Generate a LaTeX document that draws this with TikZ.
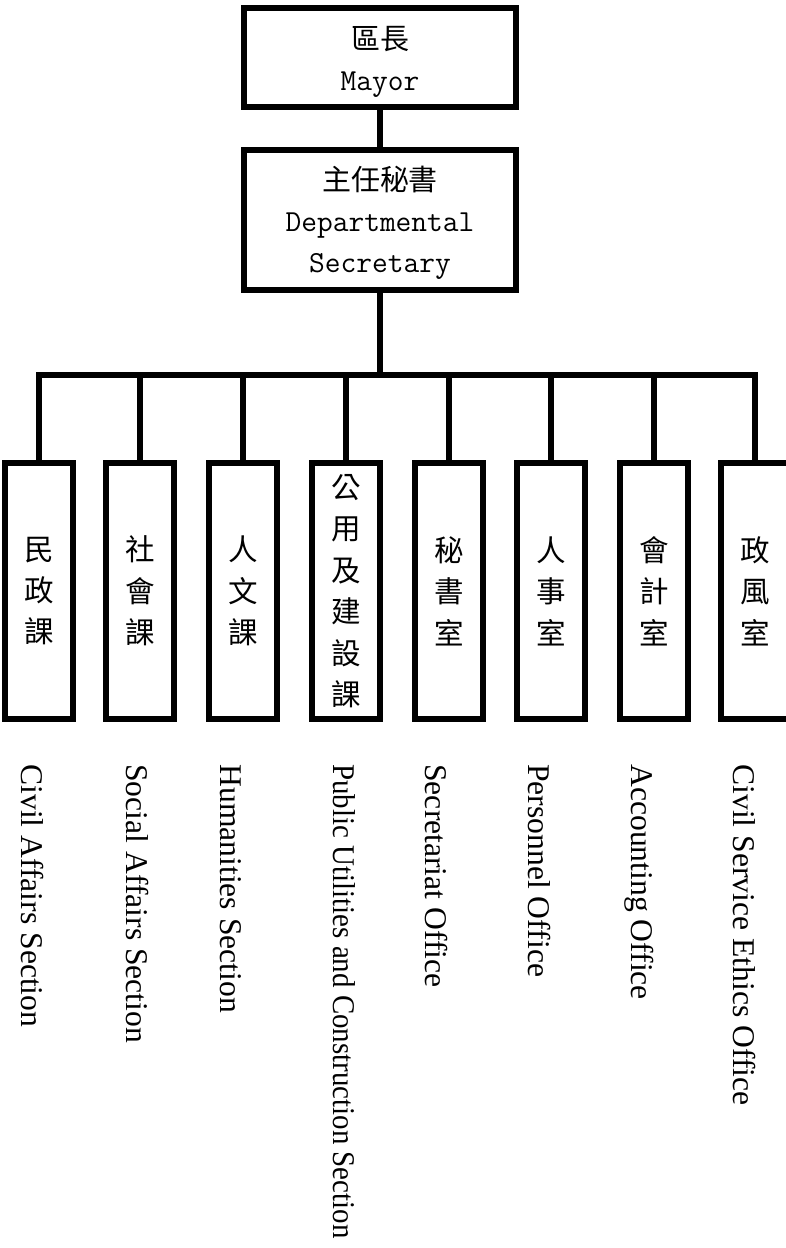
\documentclass[tikz,border=0pt]{standalone}
\usepackage{fontspec}
\newfontfamily\cjk{Noto Sans CJK TC}
\newfontfamily\tnr{Liberation Serif}
\begin{document}
\begin{tikzpicture}[x=0.02cm,y=-0.02cm,
    link/.style={line width=3.1pt},
    chief/.style={draw,line width=3.1pt,minimum width=5.44cm,align=center,inner sep=0pt,font=\fontsize{17.4}{23.3}\selectfont},
    unit/.style={draw,line width=3.1pt,minimum width=1.36cm,minimum height=5.12cm,align=center,inner sep=0pt,font=\cjk\fontsize{16.8}{23.6}\selectfont},
    eng/.style={rotate=-90,anchor=base west,inner sep=0pt,font=\tnr\fontsize{18}{20}\selectfont}]
        \useasboundingbox (0,0) rectangle (786,1248);

        % Riquadri in alto
        \node[chief,minimum height=1.98cm] (mayor) at (380,57.5) {{\cjk\fontsize{16.5}{23.3}\selectfont\rule{0pt}{18.5pt}區長}\\{\ttfamily Mayor}};
        \node[chief,minimum height=2.8cm] (sec) at (380,220) {{\cjk\fontsize{16.5}{23.3}\selectfont\rule{0pt}{17.5pt}主任秘書}\\{\ttfamily Departmental}\\{\ttfamily Secretary}};

        % Riquadri delle unita
        \node[unit] (u1) at (39,591) {民\\政\\課};
        \node[unit] (u2) at (140,591) {社\\會\\課};
        \node[unit] (u3) at (243,591) {人\\文\\課};
        \node[unit] (u4) at (346,591) {公\\用\\及\\建\\設\\課};
        \node[unit] (u5) at (449,591) {秘\\書\\室};
        \node[unit] (u6) at (551,591) {人\\事\\室};
        \node[unit] (u7) at (654,591) {會\\計\\室};
        \node[unit] (u8) at (755,591) {政\\風\\室};

        % Collegamenti
        \coordinate (bar) at (380,375);
        \draw[link] (mayor) -- (sec);
        \draw[link] (sec.south) -- (bar);
        \draw[link] (u1.north) |- (u8.north |- bar) -- (u8.north);
        \draw[link] (u2.north) -- (u2.north |- bar) (u3.north) -- (u3.north |- bar)
                    (u4.north) -- (u4.north |- bar) (u5.north) -- (u5.north |- bar)
                    (u6.north) -- (u6.north |- bar) (u7.north) -- (u7.north |- bar);

        % Nomi in inglese
        \node[eng] (l1) at (21,764) {Civil Affairs Section};
        \node[eng] (l2) at (126,764) {Social Affairs Section};
        \node[eng] (l3) at (220,764) {Humanities Section};
        \node[eng] (l4) at (333,764) {\scalebox{0.915}[1]{Public Utilities and Construction Section}};
        \node[eng] (l5) at (425,764) {Secretariat Office};
        \node[eng] (l6) at (528,764) {Personnel Office};
        \node[eng] (l7) at (631,764) {Accounting Office};
        \node[eng] (l8) at (733,764) {Civil Service Ethics Office};
    \end{tikzpicture}
\end{document}
